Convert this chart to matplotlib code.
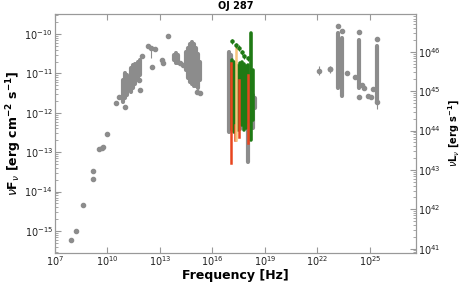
import matplotlib
matplotlib.use('Agg')
import matplotlib.pyplot as plt
from matplotlib.ticker import LogLocator, NullLocator, LogFormatterMathtext
import numpy as np

# all values are log10(frequency [Hz]) and log10(nuFnu [erg cm^-2 s^-1])
# isolated archival points
arch_logf = [7.91, 8.20, 8.58, 9.17, 9.17, 9.50, 9.68, 9.72, 9.95, 10.49, 10.66, 11.00,
             11.86, 11.82, 11.95, 12.33, 12.71, 12.53, 13.44, 13.13, 13.19, 14.14, 14.33,
             15.13, 15.29, 22.71, 23.69, 24.14, 24.53, 24.66, 24.89, 25.06, 25.15, 24.37,
             23.17, 23.40, 24.37, 25.38]
arch_logF = [-15.22, -15.01, -14.35, -13.67, -13.49, -12.92, -12.89, -12.86, -12.53, -11.75, -11.59, -11.86,
             -11.42, -11.16, -10.56, -10.30, -10.39, -10.83, -10.04, -10.66, -10.74, -10.73, -10.78,
             -11.46, -11.50, -10.89, -11.00, -11.10, -11.29, -11.37, -11.57, -11.61, -11.40, -11.60,
             -9.80, -9.92, -9.94, -10.13]

# points with visible error bars
err_logf = [12.49, 22.09, 22.71, 25.38]
err_logF = [-10.36, -10.94, -10.89, -11.72]
err_lo = [-10.62, -11.05, -10.98, -11.90]
err_hi = [-10.32, -10.82, -10.80, -11.60]

# dense archival columns: frequency, lowest and highest flux
col_logf = [10.89, 11.00, 11.11, 11.34, 11.46, 11.57, 11.74, 11.86,
            13.80, 13.91, 14.03,
            14.49, 14.60, 14.71, 14.83, 14.94, 15.06, 15.17, 15.26,
            16.94, 17.06, 17.57, 18.31, 18.43, 18.05,
            23.17, 23.40, 24.37, 25.38]
col_lo = [-11.72, -11.62, -11.54, -11.47, -11.37, -11.27, -11.11, -11.04,
          -10.66, -10.73, -10.73,
          -10.91, -11.11, -11.22, -11.27, -11.32, -11.32, -11.37, -11.16,
          -12.48, -12.38, -12.40, -12.38, -11.87, -13.24,
          -11.37, -11.57, -11.37, -11.72]
col_hi = [-11.16, -10.99, -11.04, -10.86, -10.78, -10.76, -10.71, -10.66,
          -10.53, -10.48, -10.53,
          -10.46, -10.35, -10.25, -10.20, -10.25, -10.35, -10.51, -10.71,
          -10.46, -10.53, -11.60, -11.54, -11.62, -12.18,
          -9.97, -10.10, -10.15, -10.30]

# simultaneous X-ray data (green), lowest/highest
xg_logf = [17.11, 17.23, 17.34, 17.46, 17.57, 17.69, 17.80, 17.91, 18.03, 18.18, 18.31]
xg_lo = [-12.43, -12.48, -12.38, -12.43, -12.18, -12.30, -12.43, -12.38, -12.23, -12.68, -12.18]
xg_hi = [-10.66, -10.71, -10.78, -10.81, -10.73, -10.71, -10.76, -10.81, -10.78, -9.97, -10.91]
xg_pts_logf = [17.11, 17.34, 17.51, 17.67, 17.80, 18.03]
xg_pts_logF = [-10.18, -10.28, -10.35, -10.46, -10.56, -10.61]

# red and orange X-ray spectra
xr_logf = [17.06, 17.29, 17.54, 18.05]
xr_lo = [-13.27, -12.68, -12.61, -12.76]
xr_hi = [-10.73, -12.30, -11.16, -11.04]
xo_logf = [17.37]
xo_lo = [-12.68]
xo_hi = [-10.33]

K_LUM = 56.45  # log10(4 pi d_L^2)

gray = '#8c8c8c'
fig = plt.figure(figsize=(4.64, 2.83), dpi=100)
ax = fig.add_axes([55 / 464, 30 / 283, 361 / 464, 239 / 283])


def p(v):
    return 10 ** np.array(v)


for f, lo, hi in zip(col_logf, col_lo, col_hi):
    ax.plot(p([f, f]), p([lo, hi]), color=gray, lw=3.0, solid_capstyle='round', zorder=2)
ax.errorbar(p(err_logf), p(err_logF),
            yerr=[p(err_logF) - p(err_lo), p(err_hi) - p(err_logF)],
            fmt='o', color=gray, ms=3.0, elinewidth=0.8, capsize=0, zorder=2)
ax.plot(p(arch_logf), p(arch_logF), 'o', color=gray, ms=3.0, zorder=2)

for f, lo, hi in zip(xg_logf, xg_lo, xg_hi):
    ax.plot(p([f, f]), p([lo, hi]), color='#1f7a14', lw=2.6, solid_capstyle='round', zorder=3)
for f, lo, hi in zip(xr_logf, xr_lo, xr_hi):
    ax.plot(p([f, f]), p([lo, hi]), color='#e8451e', lw=1.8, zorder=4)
for f, lo, hi in zip(xo_logf, xo_lo, xo_hi):
    ax.plot(p([f, f]), p([lo, hi]), color='#f6c47c', lw=1.8, zorder=4)
ax.errorbar(p(xg_pts_logf), p(xg_pts_logF), yerr=p(xg_pts_logF) * 0.15,
            fmt='o', color='#1f7a14', ms=2.2, elinewidth=0.7, capsize=0, zorder=5)

ax.set_xscale('log')
ax.set_yscale('log')
ax.set_xlim(1e7, 10 ** 27.63)
ax.set_ylim(10 ** -15.56, 10 ** -9.49)
ax.set_xticks([10.0 ** k for k in range(7, 28, 3)])
ax.xaxis.set_minor_locator(NullLocator())
ax.xaxis.set_major_formatter(LogFormatterMathtext())
ax.yaxis.set_major_locator(LogLocator(base=10, numticks=20))
ax.yaxis.set_minor_locator(LogLocator(base=10, subs=np.arange(2, 10), numticks=20))

ax.set_xlabel('Frequency [Hz]', fontsize=9, fontweight='bold', labelpad=0.5)
ax.set_ylabel(r'$\nu \mathbf{F}_\nu$ [erg cm$^{\mathbf{-2}}$ s$^{\mathbf{-1}}$]',
              fontsize=9, fontweight='bold')
ax.yaxis.set_label_coords(-0.085, 0.5)
ax.set_title('OJ 287', fontsize=7, fontweight='bold', pad=3.5)

ax2 = ax.twinx()
ax2.set_yscale('log')
ax2.set_ylim(10 ** (-15.56 + K_LUM), 10 ** (-9.49 + K_LUM))
ax2.yaxis.set_major_locator(LogLocator(base=10, numticks=20))
ax2.yaxis.set_minor_locator(LogLocator(base=10, subs=np.arange(2, 10), numticks=20))
ax2.set_ylabel(r'$\nu \mathbf{L}_\nu$ [erg s$^{\mathbf{-1}}$]', fontsize=7,
               fontweight='bold', labelpad=4)

for a in (ax, ax2):
    for s in a.spines.values():
        s.set_color('#999999')
    a.tick_params(which='both', direction='in', color='#999999', labelsize=7,
                  labelcolor='#222222', pad=1.5)
    a.tick_params(which='major', length=4)
    a.tick_params(which='minor', length=2)
ax.tick_params(axis='x', top=True, pad=1)

fig.savefig('out.png', dpi=100)
